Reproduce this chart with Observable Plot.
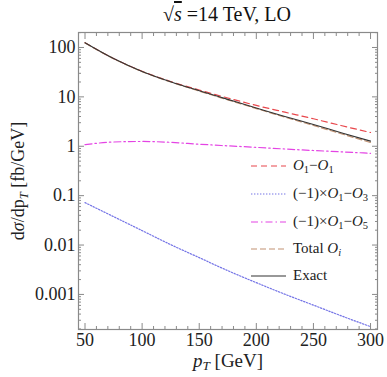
<!DOCTYPE html>
<html>
<head>
<meta charset="utf-8">
<script src="https://cdn.jsdelivr.net/npm/d3@7"></script>
<script src="https://cdn.jsdelivr.net/npm/@observablehq/plot@0.6"></script>
<style>
  body { margin: 0; background: #fff; font-family: "Liberation Serif", serif; }
  #wrap { position: relative; width: 387px; height: 377px; }
  #title { height: 30px; position: relative; }
  #title span.t { position: absolute; left: 0; width: 454px; text-align: center; top: 3px; font-size: 20px; color: #111; white-space: nowrap; }
  .ov { position: absolute; color: #222; white-space: nowrap; }
  .legtxt { position: absolute; font-size: 15px; color: #222; white-space: nowrap; line-height: 1; }
  sub { font-size: 0.7em; vertical-align: -0.25em; }
</style>
</head>
<body>
<div id="wrap">
  <div id="title"><span class="t">√<span style="text-decoration:overline"><i>s</i></span> =14 TeV, LO</span></div>
  <div id="chart"></div>
</div>
<script>
// ---- data ----
const pT = [50, 75, 100, 125, 150, 175, 200, 225, 250, 275, 300];
const exact   = [124.5, 59.6, 32.7, 20.2, 13.3, 8.9, 5.96, 4.01, 2.76, 1.86, 1.27];
const o1o1    = [124.5, 59.8, 33.0, 20.5, 13.8, 9.5, 6.7, 4.9, 3.6, 2.6, 1.9];
const totalOi = [124.0, 59.3, 32.5, 20.0, 13.1, 8.7, 5.8, 3.88, 2.64, 1.77, 1.19];
const o1o3    = [0.0722, 0.0376, 0.0196, 0.0102, 0.00556, 0.00303, 0.00173, 0.00101, 0.000607, 0.000364, 0.000223];
const o1o5    = [1.08, 1.22, 1.25, 1.2, 1.1, 1.02, 0.95, 0.88, 0.82, 0.77, 0.72];

const seriesNames = ["O1-O1", "(-1)xO1-O3", "(-1)xO1-O5", "Total Oi", "Exact"];
const seriesColors = ["#e8474c", "#7474e6", "#e444e4", "#c29272", "#333333"];
const seriesDash = ["6,4", "1.4,1.6", "7,3,1.5,3", "6,3", null];
const seriesWidth = [1.2, 1.2, 1.2, 1.2, 1.1];
const legendHTML = [
  "<i>O</i><sub>1</sub>−<i>O</i><sub>1</sub>",
  "(−1)×<i>O</i><sub>1</sub>−<i>O</i><sub>3</sub>",
  "(−1)×<i>O</i><sub>1</sub>−<i>O</i><sub>5</sub>",
  "Total <i>O<sub>i</sub></i>",
  "Exact"
];

const xTicks = [50, 100, 150, 200, 250, 300];
const xMinorTicks = d3.range(50, 301, 10).filter(v => v % 50 !== 0);
const yTicks = [0.001, 0.01, 0.1, 1, 10, 100];
const yTickLabels = ["0.001", "0.01", "0.1", "1", "10", "100"];
const yMinorTicks = [];
for (const d of [0.0001, 0.001, 0.01, 0.1, 1, 10, 100]) for (let k = 2; k <= 9; k++) yMinorTicks.push(d * k);

const xDomain = [44.3, 306.1];
const yDomain = [1.95e-4, 201];

// ---- build table ----
const seriesValues = [o1o1, o1o3, o1o5, totalOi, exact];
const rows = [];
seriesNames.forEach((s, i) => pT.forEach((x, j) => rows.push({series: s, x, y: seriesValues[i][j]})));

const W = 387, H = 347;
const axisColor = "#8a8a8a";
const fmt = d => yTickLabels[yTicks.indexOf(d)] ?? "";
const yMinor = yMinorTicks.filter(v => v >= yDomain[0] && v <= yDomain[1]);

const plot = Plot.plot({
  width: W,
  height: H,
  marginTop: 2,
  marginRight: 10,
  marginBottom: 48,
  marginLeft: 78,
  style: {fontFamily: "Liberation Serif, serif", fontSize: "18px", color: "#222", background: "white"},
  x: {domain: xDomain, axis: null},
  y: {type: "log", domain: yDomain, axis: null},
  marks: [
    Plot.axisX(xTicks, {anchor: "bottom", label: null, tickSize: 0, tickPadding: 4, tickFormat: d => String(d), fontSize: 18, fill: "#222"}),
    Plot.axisY(yTicks, {anchor: "left", label: null, tickSize: 0, tickPadding: 3, tickFormat: fmt, fontSize: 18, fill: "#222"}),
    Plot.axisX(xTicks, {anchor: "bottom", label: null, tickSize: -6, text: null, stroke: axisColor}),
    Plot.axisX(xMinorTicks, {anchor: "bottom", label: null, tickSize: -3, text: null, stroke: axisColor}),
    Plot.axisX(xTicks, {anchor: "top", label: null, tickSize: -6, text: null, stroke: axisColor}),
    Plot.axisX(xMinorTicks, {anchor: "top", label: null, tickSize: -3, text: null, stroke: axisColor}),
    Plot.axisY(yTicks, {anchor: "left", label: null, tickSize: -6, text: null, stroke: axisColor}),
    Plot.axisY(yMinor, {anchor: "left", label: null, tickSize: -3, text: null, stroke: axisColor}),
    Plot.axisY(yTicks, {anchor: "right", label: null, tickSize: -6, text: null, stroke: axisColor}),
    Plot.axisY(yMinor, {anchor: "right", label: null, tickSize: -3, text: null, stroke: axisColor}),
    ...seriesNames.map((s, i) => Plot.line(rows.filter(r => r.series === s), {
      x: "x", y: "y", curve: "monotone-x",
      stroke: seriesColors[i], strokeWidth: seriesWidth[i],
      strokeDasharray: seriesDash[i] ?? undefined
    })),
    Plot.frame({stroke: axisColor, strokeWidth: 1.2})
  ]
});

document.getElementById("chart").appendChild(plot);

// overlays: axis titles and legend
const wrap = document.getElementById("wrap");
const yl = document.createElement("div");
yl.className = "ov";
yl.style.cssText = "left:20px;top:181px;font-size:18px;transform:translate(-50%,-50%) rotate(-90deg);";
yl.innerHTML = "d<i>σ</i>/dp<sub><i>T</i></sub> [fb/GeV]";
wrap.appendChild(yl);

const xl = document.createElement("div");
xl.className = "ov";
xl.style.cssText = "left:228px;top:362px;font-size:19px;transform:translate(-50%,-50%);";
xl.innerHTML = "<i>p<sub>T</sub></i> [GeV]";
wrap.appendChild(xl);

const legRows = [166, 194, 222, 249, 276];
const legSvg = d3.create("svg").attr("width", W).attr("height", 377)
  .style("position", "absolute").style("left", "0").style("top", "0").style("pointer-events", "none");
legendHTML.forEach((h, i) => {
  legSvg.append("line").attr("x1", 251).attr("x2", 286).attr("y1", legRows[i]).attr("y2", legRows[i])
    .attr("stroke", seriesColors[i]).attr("stroke-width", seriesWidth[i])
    .attr("stroke-dasharray", seriesDash[i] ?? null);
  const t = document.createElement("div");
  t.className = "legtxt";
  t.style.left = "293px";
  t.style.top = (legRows[i] - 8) + "px";
  t.innerHTML = h;
  wrap.appendChild(t);
});
wrap.appendChild(legSvg.node());
</script>
</body>
</html>
